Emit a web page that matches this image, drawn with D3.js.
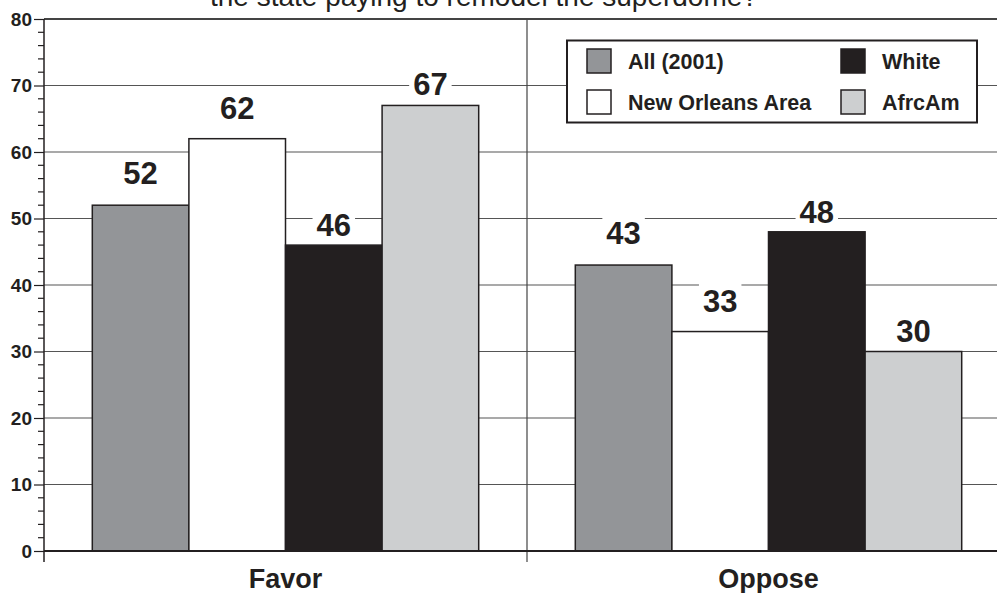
<!DOCTYPE html>
<html>
<head>
<meta charset="utf-8">
<script src="https://cdn.jsdelivr.net/npm/d3@7"></script>
<style>
  html, body { margin: 0; padding: 0; background: #fff; }
  svg { display: block; font-family: "Liberation Sans", Arial, sans-serif; }
</style>
</head>
<body>
<svg id="chart" width="997" height="593"></svg>
<script>
const titleText = "the state paying to remodel the superdome?";
const categories = ["Favor", "Oppose"];
const seriesNames = ["All (2001)", "New Orleans Area", "White", "AfrcAm"];
const allValues = [52, 43];
const newOrleansValues = [62, 33];
const whiteValues = [46, 48];
const afrcAmValues = [67, 30];
const yTicks = [0, 10, 20, 30, 40, 50, 60, 70, 80];

const seriesValues = [allValues, newOrleansValues, whiteValues, afrcAmValues];
const colors = ["#939598", "#ffffff", "#231f20", "#cdcfd0"];
const labelGap = [21, 20, 9, 10];

const svg = d3.select("#chart");
const plotL = 44, plotT = 19, plotB = 551;
const groupW = 483;

const x0 = d3.scaleBand().domain(categories).range([plotL, plotL + groupW * categories.length]).paddingInner(0).paddingOuter(0);
const x1 = d3.scaleBand().domain(seriesNames).range([0, x0.bandwidth()]).paddingInner(0).paddingOuter(0.5);
const y = d3.scaleLinear().domain([0, 80]).range([plotB, plotT]);

// title (partially cut at top, as in the reference)
svg.append("text").attr("x", 210).attr("y", 6)
  .attr("font-size", 28).attr("fill", "#231f20").text(titleText);

// gridlines
svg.append("g").selectAll("line").data(yTicks.filter(d => d > 0 && d < 80)).join("line")
  .attr("x1", plotL).attr("x2", 997).attr("y1", d => y(d)).attr("y2", d => y(d))
  .attr("stroke", "#555").attr("stroke-width", 1.2);

// top line
svg.append("line").attr("x1", plotL).attr("x2", 997).attr("y1", y(80)).attr("y2", y(80))
  .attr("stroke", "#444").attr("stroke-width", 2);

// group separators
svg.append("g").selectAll("line").data(categories.slice(1)).join("line")
  .attr("x1", d => x0(d)).attr("x2", d => x0(d)).attr("y1", plotT).attr("y2", plotB + 11)
  .attr("stroke", "#444").attr("stroke-width", 1.2);

// bars
const groups = svg.append("g").selectAll("g").data(categories).join("g")
  .attr("transform", d => `translate(${x0(d)},0)`);
groups.selectAll("rect").data((c, ci) => seriesNames.map((s, si) => ({s, si, v: seriesValues[si][ci]}))).join("rect")
  .attr("x", d => x1(d.s)).attr("width", x1.bandwidth())
  .attr("y", d => y(d.v)).attr("height", d => y(0) - y(d.v))
  .attr("fill", d => colors[d.si]).attr("stroke", "#231f20").attr("stroke-width", 1.5);

// value labels with white backgrounds
groups.each(function(c, ci) {
  const g = d3.select(this);
  seriesNames.forEach((s, si) => {
    const v = seriesValues[si][ci];
    const cx = x1(s) + x1.bandwidth() / 2;
    const by = y(v) - labelGap[si];
    const t = g.append("text").attr("x", cx).attr("y", by).attr("text-anchor", "middle")
      .attr("font-size", 31).attr("font-weight", "bold").attr("fill", "#231f20").text(v);
    const bb = t.node().getBBox();
    g.insert("rect", () => t.node())
      .attr("x", bb.x - 4).attr("y", bb.y - 2).attr("width", bb.width + 8).attr("height", bb.height + 2)
      .attr("fill", "#fff");
  });
});

// y axis
const yAxis = d3.axisLeft(y).tickValues(yTicks).tickSize(10).tickPadding(2).tickFormat(d3.format("d"));
const ya = svg.append("g").attr("transform", `translate(${plotL},0)`).call(yAxis);
ya.select(".domain").remove();
ya.selectAll("line").attr("stroke", "#231f20").attr("stroke-width", 1.2);
ya.selectAll("text").attr("font-size", 19).attr("font-weight", "bold").attr("fill", "#231f20")
  .attr("font-family", "Liberation Sans, Arial, sans-serif");
const minor = d3.range(0, 80, 2).filter(d => d % 10 !== 0);
svg.append("g").selectAll("line").data(minor).join("line")
  .attr("x1", plotL - 6).attr("x2", plotL).attr("y1", d => y(d)).attr("y2", d => y(d))
  .attr("stroke", "#231f20").attr("stroke-width", 1.2);
svg.append("line").attr("x1", plotL).attr("x2", plotL).attr("y1", plotT).attr("y2", plotB + 11)
  .attr("stroke", "#231f20").attr("stroke-width", 1.5);

// x axis baseline
svg.append("line").attr("x1", plotL).attr("x2", 997).attr("y1", y(0)).attr("y2", y(0))
  .attr("stroke", "#231f20").attr("stroke-width", 2);

// category labels
svg.append("g").selectAll("text").data(categories).join("text")
  .attr("x", d => x0(d) + x0.bandwidth() / 2).attr("y", 588).attr("text-anchor", "middle")
  .attr("font-size", 27).attr("font-weight", "bold").attr("fill", "#231f20").text(d => d);

// legend
const lg = svg.append("g");
lg.append("rect").attr("x", 567).attr("y", 40.5).attr("width", 410).attr("height", 82)
  .attr("fill", "#fff").attr("stroke", "#231f20").attr("stroke-width", 2);
const legPos = [[587, 49], [587, 90], [841, 49], [841, 90]];
const legOrder = [0, 1, 2, 3];
legOrder.forEach((si, k) => {
  const [lx, ly] = legPos[k];
  lg.append("rect").attr("x", lx).attr("y", ly).attr("width", 24).attr("height", 24)
    .attr("fill", colors[si]).attr("stroke", "#231f20").attr("stroke-width", 1.5);
  lg.append("text").attr("x", lx + 41).attr("y", ly + 19.5)
    .attr("font-size", 21.5).attr("font-weight", "bold").attr("fill", "#231f20").text(seriesNames[si]);
});
</script>
</body>
</html>
